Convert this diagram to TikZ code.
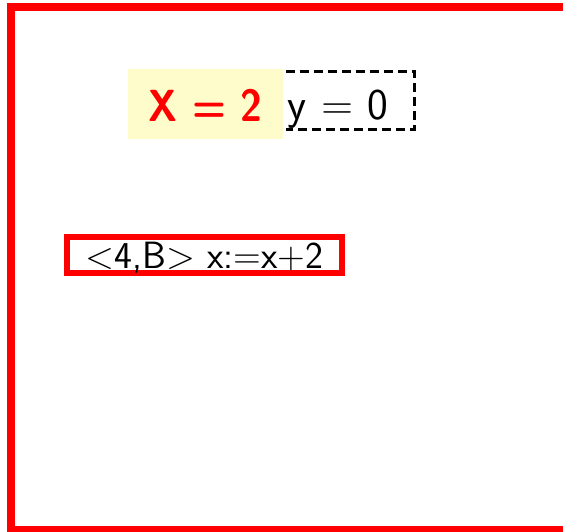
\documentclass[tikz,border=0pt]{standalone}
\usepackage{fontspec}
\usepackage{graphicx}
\begin{document}
\begin{tikzpicture}[x=1pt,y=-1pt,
  frame/.style={draw=red,line width=8pt},
  hlbox/.style={fill=yellow!20,inner xsep=0pt,inner ysep=18pt,minimum width=155pt,minimum height=70pt,
    text height=34pt,text depth=0pt,text=red,font=\sffamily\bfseries\fontsize{45}{50}\selectfont},
  dashbox/.style={inner xsep=1pt,inner ysep=9.5pt,text width=126pt,align=left,
    text height=38pt,text depth=0pt,font=\sffamily\fontsize{44}{50}\selectfont},
  dashline/.style={draw=black,line width=3pt,dash pattern=on 9pt off 5pt},
  redbox/.style={draw=red,line width=6pt,inner xsep=0pt,inner ysep=5pt,minimum width=275pt,
    text height=26pt,text depth=0pt,font=\sffamily\fontsize{38}{44}\selectfont}]
\useasboundingbox (0,0) rectangle (563,531);
\draw[frame] (10.7,7.3) rectangle (580,530);
\node[hlbox] (xv) at (205.5,104) {\scalebox{0.88}[1]{X = 2}};
\node[dashbox] (yv) at (350.5,100.5) {y = 0};
\draw[dashline] (yv.north west) -- (yv.north east) -- (yv.south east) -- (yv.south west);
\node[redbox] (tr) at (204.5,255) {<4,B> x:=x+2};
\end{tikzpicture}
\end{document}
